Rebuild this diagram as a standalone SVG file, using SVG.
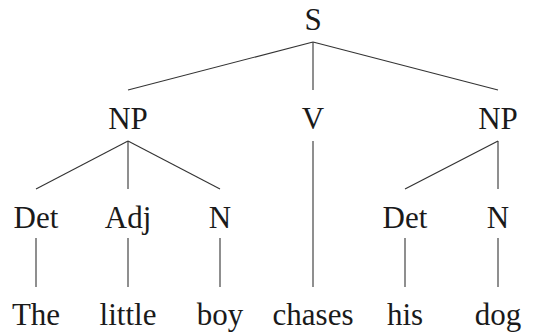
<svg xmlns="http://www.w3.org/2000/svg" width="541" height="334" viewBox="0 0 541 334">
<style>
text{font-family:"Liberation Serif","Times New Roman",Times,"DejaVu Serif",serif;font-size:31px;fill:#1a1a1a;text-anchor:middle}
.e line{stroke:#333;stroke-width:1.1}
</style>
<rect width="541" height="334" fill="#fff"/>
<g class="e" id="edges">
<line x1="313" y1="42" x2="128" y2="90"/>
<line x1="313" y1="42" x2="313" y2="90"/>
<line x1="313" y1="42" x2="498" y2="90"/>
<line x1="128" y1="141" x2="36" y2="189"/>
<line x1="128" y1="141" x2="128" y2="189"/>
<line x1="128" y1="141" x2="220" y2="189"/>
<line x1="313" y1="141" x2="313" y2="287"/>
<line x1="498" y1="141" x2="405" y2="189"/>
<line x1="498" y1="141" x2="498" y2="189"/>
<line x1="36" y1="238" x2="36" y2="287"/>
<line x1="128" y1="238" x2="128" y2="287"/>
<line x1="220" y1="238" x2="220" y2="287"/>
<line x1="405" y1="238" x2="405" y2="287"/>
<line x1="498" y1="238" x2="498" y2="287"/>
</g>
<g id="S"><text x="313" y="30">S</text></g>
<g id="NP1"><text x="128" y="129">NP</text></g>
<g id="V"><text x="313" y="129">V</text></g>
<g id="NP2"><text x="498" y="129">NP</text></g>
<g id="Det1"><text x="36" y="228">Det</text></g>
<g id="Adj"><text x="128" y="228">Adj</text></g>
<g id="N1"><text x="220" y="228">N</text></g>
<g id="Det2"><text x="405" y="228">Det</text></g>
<g id="N2"><text x="498" y="228">N</text></g>
<g id="w1"><text x="36" y="325">The</text></g>
<g id="w2"><text x="128" y="325">little</text></g>
<g id="w3"><text x="220" y="325">boy</text></g>
<g id="w4"><text x="313" y="325">chases</text></g>
<g id="w5"><text x="405" y="325">his</text></g>
<g id="w6"><text x="498" y="325">dog</text></g>
</svg>
